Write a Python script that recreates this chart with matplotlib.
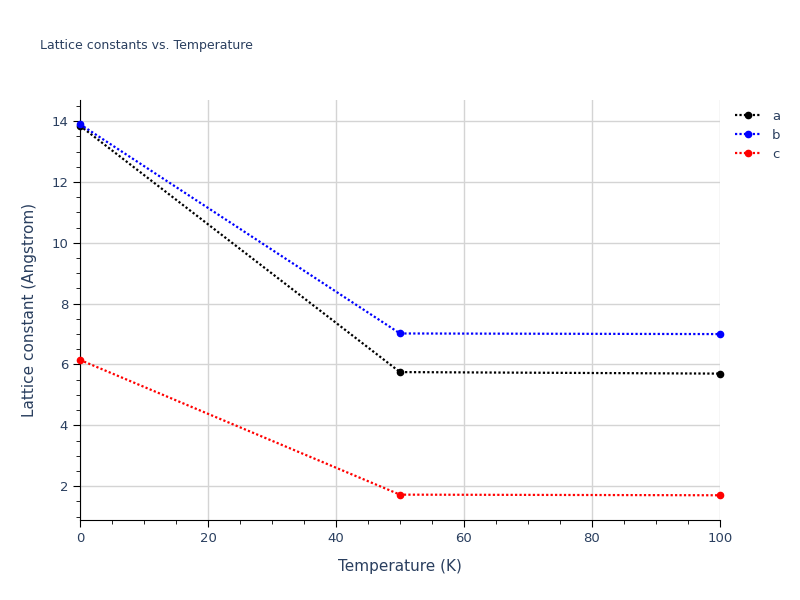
import matplotlib
matplotlib.use("Agg")
import matplotlib.pyplot as plt
from matplotlib.ticker import MultipleLocator

temperature = [0, 50, 100]
lat_a = [13.85, 5.75, 5.70]
lat_b = [13.90, 7.02, 7.00]
lat_c = [6.15, 1.72, 1.70]

series = [("a", lat_a, "black"), ("b", lat_b, "blue"), ("c", lat_c, "red")]

fig = plt.figure(figsize=(8, 6), dpi=100)
ax = fig.add_axes([0.1, 0.133, 0.8, 0.7])

for name, vals, col in series:
    ax.plot(temperature, vals, linestyle=(0, (1, 1)), lw=1.6, color=col,
            marker="o", ms=4.5, label=name, clip_on=False, zorder=3)

ax.set_xlim(0, 100)
ax.set_ylim(0.88, 14.69)
ax.xaxis.set_major_locator(MultipleLocator(20))
ax.xaxis.set_minor_locator(MultipleLocator(5))
ax.yaxis.set_major_locator(MultipleLocator(2))
ax.yaxis.set_minor_locator(MultipleLocator(0.5))
ax.grid(True, which="major", color="#d4d4d4", lw=1)
ax.set_axisbelow(True)
for s in ["top", "right"]:
    ax.spines[s].set_visible(False)
for s in ["left", "bottom"]:
    ax.spines[s].set_color("black")
ax.tick_params(which="major", length=5, color="black", labelsize=9.5, labelcolor="#2a3f5f")
ax.tick_params(which="minor", length=3, color="black")

ax.set_xlabel("Temperature (K)", fontsize=11, color="#2a3f5f", labelpad=10)
ax.set_ylabel("Lattice constant (Angstrom)", fontsize=11, color="#2a3f5f", labelpad=10)
fig.text(0.05, 0.925, "Lattice constants vs. Temperature", fontsize=9, color="#2a3f5f", va="center")

ax.legend(loc="upper left", bbox_to_anchor=(1.015, 0.99), frameon=False,
          fontsize=9.5, labelcolor="#2a3f5f", handlelength=2, borderaxespad=0,
          labelspacing=0.45)

fig.savefig("out.png")
